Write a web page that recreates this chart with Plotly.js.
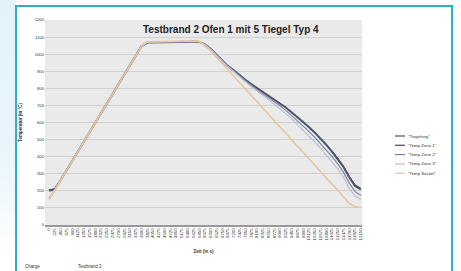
<!DOCTYPE html>
<html>
<head>
<meta charset="utf-8">
<script src="https://cdn.plot.ly/plotly-3.0.1.min.js"></script>
<style>
html,body{margin:0;padding:0;background:#fff;}
#strip{position:absolute;left:0;top:0;width:16px;height:271px;background:linear-gradient(to bottom,#e3f2fa 0%,#e8f5fb 55%,#f6fbfd 80%,#ffffff 95%);}
#frame{position:absolute;left:15px;top:5px;width:438px;height:290px;box-sizing:border-box;border:2px solid #2cb2c7;background:#fff;}
#chart{position:absolute;left:0;top:0;width:461px;height:271px;}
</style>
</head>
<body>
<div id="strip"></div>
<div id="frame"></div>
<div id="chart"></div>
<script>
// ---- data ----
const timeLabels = [];
for (let i = 0; i < 55; i++) timeLabels.push(String(i * 225));

const seriesNames = ['"Tiegelring"', '"Temp Zone 1"', '"Temp Zone 2"', '"Temp Zone 3"', '"Temp Sockel"'];

const tiegelring = [205,212,262,318,374,430,486,542,598,654,710,766,822,878,934,990,1046,
  1068,1069,1070,1070,1071,1072,1072,1073,1073,1072,
  1058,1030,995,960,930,905,875,850,825,803,780,758,735,712,688,660,632,604,574,542,507,470,432,392,343,285,235,215];
const zone1 = [200,210,262,318,374,430,486,542,598,654,710,766,822,878,934,990,1046,
  1068,1069,1070,1070,1071,1072,1072,1073,1073,1072,
  1058,1030,995,960,930,905,875,850,825,803,780,758,735,712,688,660,632,604,574,542,507,470,430,388,340,280,228,208];
const zone2 = [155,206,262,318,374,430,486,542,598,654,710,766,822,878,934,990,1046,
  1070,1071,1072,1072,1073,1074,1074,1075,1075,1074,
  1058,1030,995,960,930,903,872,845,818,795,772,748,723,698,671,641,610,580,548,514,478,440,400,358,308,245,195,172];
const zone3 = [152,206,262,318,374,430,486,542,598,654,710,766,822,878,934,990,1046,
  1070,1071,1072,1072,1073,1074,1074,1075,1075,1074,
  1056,1028,993,958,926,898,866,838,810,786,760,735,708,681,652,621,588,556,522,487,450,411,370,328,278,215,170,150];
const sockel = [148,206,262,318,374,430,486,542,598,654,710,766,822,878,934,990,1046,
  1072,1073,1074,1074,1075,1076,1076,1077,1077,1075,
  1050,1020,982,945,908,872,835,798,760,724,687,650,612,575,538,500,463,426,390,352,316,280,242,205,165,125,108,102];

const seriesValues = [tiegelring, zone1, zone2, zone3, sockel];
const seriesColors = ['#2e2e36', '#4f5366', '#80859e', '#babed6', '#e6c79e'];
const seriesWidths = [1, 2, 1.2, 1.2, 1.6];

// ---- chart ----
const traces = seriesValues.map((vals, k) => ({
  type: 'scatter', mode: 'lines', x: timeLabels, y: vals, name: seriesNames[k],
  line: {color: seriesColors[k], width: seriesWidths[k]}, showlegend: false, hoverinfo: 'skip'
}));

const L = 45, R = 362, T = 20, B = 225;
const px2x = p => (p - L) / (R - L);
const px2y = p => (B - p) / (B - T);
const FONT = 'Liberation Sans, Arial, sans-serif';

const annotations = [
  {text: 'Testbrand 2 Ofen 1 mit 5 Tiegel Typ 4', xref: 'paper', yref: 'paper', x: px2x(231), y: px2y(29),
   showarrow: false, xanchor: 'center', yanchor: 'middle', font: {family: FONT, size: 10, color: '#222', weight: 'bold'}},
  {text: 'Charge', xref: 'paper', yref: 'paper', x: px2x(23), y: px2y(266), showarrow: false,
   xanchor: 'left', yanchor: 'middle', font: {family: FONT, size: 4.5, color: '#333'}},
  {text: 'Testbrand 2', xref: 'paper', yref: 'paper', x: px2x(76), y: px2y(266), showarrow: false,
   xanchor: 'left', yanchor: 'middle', font: {family: FONT, size: 4.5, color: '#333'}}
];
const shapes = [];
seriesNames.forEach((nm, k) => {
  const yy = 136 + 9.3 * k;
  shapes.push({type: 'line', xref: 'paper', yref: 'paper', x0: px2x(395), x1: px2x(405), y0: px2y(yy), y1: px2y(yy),
    line: {color: seriesColors[k], width: Math.min(seriesWidths[k], 1.3)}});
  annotations.push({text: nm, xref: 'paper', yref: 'paper', x: px2x(406), y: px2y(yy), showarrow: false,
    xanchor: 'left', yanchor: 'middle', font: {family: FONT, size: 4.3, color: '#333'}});
});

const layout = {
  width: 461, height: 271,
  margin: {l: L, r: 461 - R, t: T, b: 271 - B, pad: 0},
  paper_bgcolor: 'rgba(0,0,0,0)', plot_bgcolor: '#eaeaea',
  showlegend: false,
  font: {family: FONT, color: '#333'},
  xaxis: {type: 'category', range: [-0.7, 54.2], tickangle: -90, tickfont: {size: 4.4, color: '#333'},
    showgrid: false, zeroline: false, showline: true, linecolor: '#999', linewidth: 1.5, ticks: '',
    automargin: false,
    title: {text: 'Zeit (in s)', font: {size: 4.5, color: '#333', weight: 'bold'}, standoff: 10}},
  yaxis: {range: [0, 1200], dtick: 100, tickfont: {size: 4.2, color: '#333'}, gridcolor: '#d0d0d0', gridwidth: 1,
    zeroline: false, showline: false, ticks: '', automargin: false,
    title: {text: 'Temperatur (in °C)', font: {size: 4.5, color: '#333', weight: 'bold'}, standoff: 12}},
  annotations: annotations,
  shapes: shapes
};

Plotly.newPlot('chart', traces, layout, {displayModeBar: false, staticPlot: true});
</script>
</body>
</html>
